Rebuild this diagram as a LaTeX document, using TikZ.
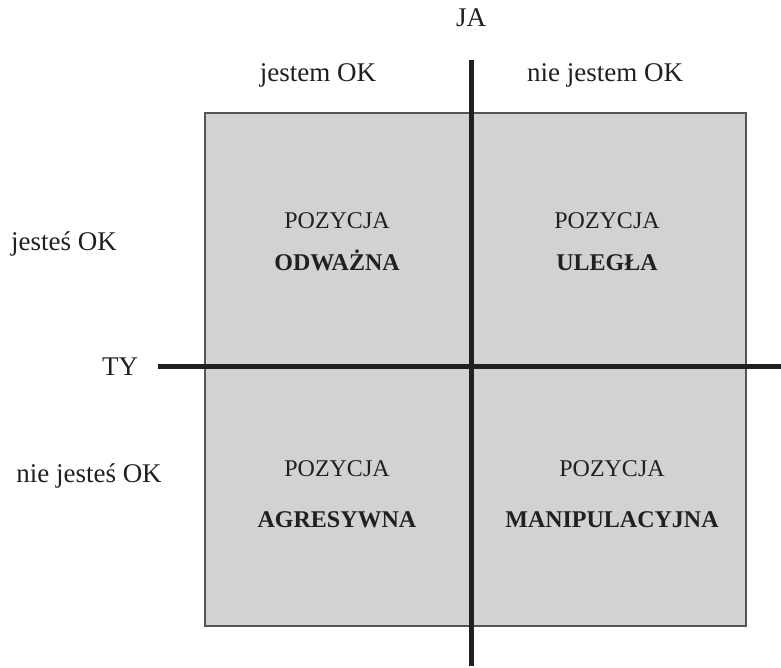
\documentclass[tikz,border=0pt]{standalone}
\usepackage{fontspec}
\setmainfont{Liberation Serif}
\begin{document}
\begin{tikzpicture}[x=1pt,y=-1pt,
  lab/.style={font=\fontsize{27}{30}\selectfont, inner sep=0pt, anchor=center, text=textcol},
  quad/.style={font=\fontsize{24}{42}\selectfont, align=center, inner sep=0pt, text=textcol},
  quadlow/.style={quad, font=\fontsize{24}{51}\selectfont},
  axis/.style={line width=4.5pt, draw=textcol}]
\definecolor{boxgray}{RGB}{209,210,212}
\definecolor{boxedge}{RGB}{85,85,85}
\definecolor{textcol}{RGB}{35,31,32}
\useasboundingbox (0,0) rectangle (781,668);
\fill[white] (0,0) rectangle (781,668);
\node[draw=boxedge, line width=2pt, fill=boxgray, minimum width=541pt, minimum height=513pt, inner sep=0pt, anchor=north west] (box) at (204,112) {};
% axes
\coordinate (ytop) at (471.5,60);
\coordinate (ybot) at (471.5,666);
\coordinate (xl) at (158,366.5);
\coordinate (xr) at (781,366.5);
\draw[axis] (ytop) -- (ybot);
\draw[axis] (xl) -- (xr);
% labels
\node[lab] (ja) at (471,18) {JA};
\node[lab] (jok) at (318,75) {jestem OK};
\node[lab] (njok) at (605,75) {nie jestem OK};
\node[lab] (tok) at (64,244) {jesteś OK};
\node[lab] (ty) at (120,367) {TY};
\node[lab] (ntok) at (89,476) {nie jesteś OK};
% quadrants
\node[quad] (q1) at (337,242) {POZYCJA\\\textbf{ODWAŻNA}};
\node[quad] (q2) at (607,242) {POZYCJA\\\textbf{ULEGŁA}};
\node[quadlow] (q3) at (337,494) {POZYCJA\\\textbf{AGRESYWNA}};
\node[quadlow] (q4) at (612,494) {POZYCJA\\\textbf{MANIPULACYJNA}};
\end{tikzpicture}
\end{document}
